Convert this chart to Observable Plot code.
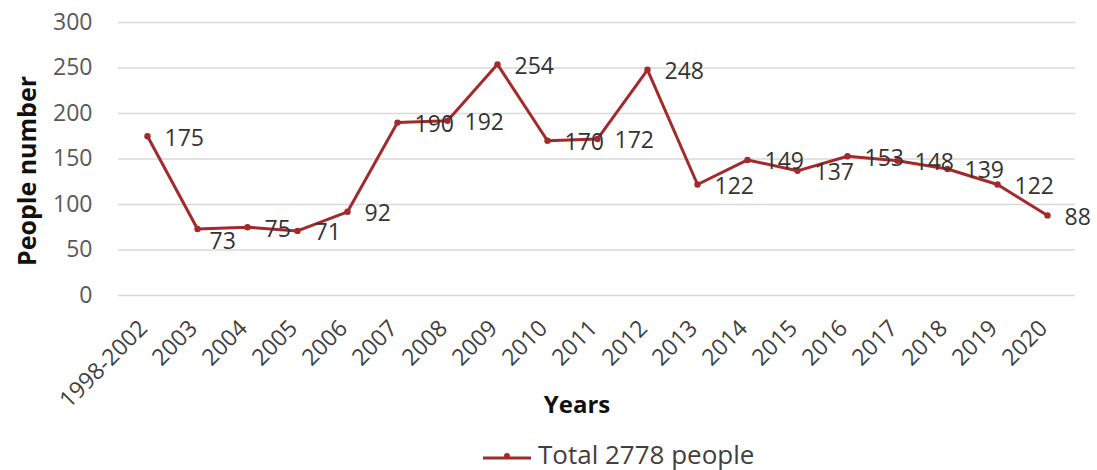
<!DOCTYPE html>
<html>
<head>
<meta charset="utf-8">
<script src="https://cdn.jsdelivr.net/npm/d3@7"></script>
<script src="https://cdn.jsdelivr.net/npm/@observablehq/plot@0.6"></script>
<style>
  html, body { margin: 0; padding: 0; background: #fff; overflow: hidden; }
  #chart { width: 1097px; height: 430px; }
  .legend { height: 40px; display: flex; align-items: center; justify-content: flex-start; padding-left: 483px; padding-top: 8px; box-sizing: border-box; font-family: "Open Sans", sans-serif; font-size: 26px; line-height: 30px; color: #404040; }
  .legend svg { margin-right: 7px; margin-top: 6px; }
</style>
</head>
<body>
<div id="chart"></div>
<script>
const years = ["1998-2002","2003","2004","2005","2006","2007","2008","2009","2010","2011","2012","2013","2014","2015","2016","2017","2018","2019","2020"];
const people = [175, 73, 75, 71, 92, 190, 192, 254, 170, 172, 248, 122, 149, 137, 153, 148, 139, 122, 88];
const yTicks = [0, 50, 100, 150, 200, 250, 300];
const seriesName = "Total 2778 people";
const xTitle = "Years";
const yTitle = "People number";

const data = years.map((y, i) => ({year: y, value: people[i]}));
const red = "#a3292b";
const font = "'Open Sans', sans-serif";

const chart = Plot.plot({
  width: 1097,
  height: 430,
  marginTop: 22,
  marginLeft: 118,
  marginRight: 22,
  marginBottom: 135,
  style: {fontFamily: font, fontSize: "22px", color: "#595959", background: "#fff"},
  x: {type: "point", domain: years, padding: 0.5, label: null},
  y: {domain: [0, 300], label: null},
  marks: [
    Plot.gridY(yTicks, {stroke: "#d9d9d9", strokeOpacity: 1, strokeWidth: 1.5}),
    Plot.axisY(yTicks, {tickSize: 0, tickPadding: 26, fontSize: 23, label: null}),
    Plot.axisX(years, {tickSize: 0, tickRotate: -45, tickPadding: 0, dx: -4, dy: 29, fontSize: 23, fill: "#404040", label: null}),
    Plot.line(data, {x: "year", y: "value", stroke: red, strokeWidth: 3}),
    Plot.dot(data, {x: "year", y: "value", fill: red, r: 3.2}),
    Plot.text(data, {filter: (d, i) => i !== 1, x: "year", y: "value", text: d => String(d.value), dx: 17, dy: 2, textAnchor: "start", fontSize: 23, fill: "#333"}),
    Plot.text(data, {filter: (d, i) => i === 1, x: "year", y: "value", text: d => String(d.value), dx: 12, dy: 13, textAnchor: "start", fontSize: 23, fill: "#333"}),
    Plot.text([yTitle], {frameAnchor: "left", textAnchor: "middle", rotate: -90, dx: -91, dy: 12, fontWeight: "bold", fontSize: 25, fill: "#111"}),
    Plot.text([xTitle], {frameAnchor: "bottom", dx: -20, dy: 117, fontWeight: "bold", fontSize: 24, fill: "#111"})
  ]
});
document.getElementById("chart").appendChild(chart);

const legend = document.createElement("div");
legend.className = "legend";
legend.innerHTML = `<svg width="48" height="12"><line x1="0" y1="7" x2="48" y2="7" stroke="${red}" stroke-width="3"/><circle cx="24" cy="5" r="3" fill="${red}"/></svg><span>${seriesName}</span>`;
document.body.appendChild(legend);
</script>
</body>
</html>
